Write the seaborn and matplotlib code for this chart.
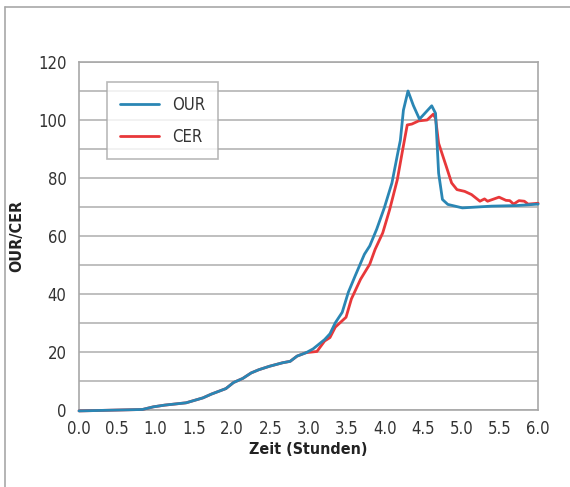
import numpy as np
import pandas as pd
import matplotlib.pyplot as plt
import seaborn as sns
from matplotlib.lines import Line2D

# OUR series (hours, value)
our_t = [0.0, 0.83, 0.97, 1.12, 1.40, 1.62, 1.73, 1.92, 2.02, 2.14, 2.25, 2.35, 2.49,
         2.66, 2.76, 2.85, 2.97, 3.06, 3.21, 3.28, 3.35, 3.44, 3.52, 3.61, 3.73, 3.80,
         3.89, 3.99, 4.09, 4.17, 4.20, 4.24, 4.30, 4.37, 4.45, 4.61, 4.66, 4.70, 4.75,
         4.82, 5.01, 5.39, 5.72, 6.0]
our_v = [-0.3, 0.2, 1.1, 1.7, 2.5, 4.2, 5.5, 7.4, 9.5, 10.9, 12.8, 13.9, 15.1,
         16.3, 16.8, 18.6, 19.8, 21.1, 24.3, 26.3, 30.1, 33.7, 40.6, 46.3, 53.7, 56.6,
         62.3, 69.7, 78.3, 89.1, 93.0, 103.4, 110.0, 105.0, 100.3, 104.9, 102.3, 81.7, 72.6,
         70.9, 69.7, 70.3, 70.5, 71.0]

# CER series
cer_t = [0.0, 0.83, 0.97, 1.12, 1.40, 1.62, 1.73, 1.92, 2.02, 2.14, 2.25, 2.35, 2.49,
         2.66, 2.76, 2.85, 2.97, 3.11, 3.21, 3.28, 3.35, 3.49, 3.56, 3.68, 3.80, 3.87,
         3.97, 4.06, 4.16, 4.23, 4.29, 4.35, 4.44, 4.55, 4.63, 4.66, 4.70, 4.80, 4.87,
         4.94, 5.04, 5.13, 5.24, 5.30, 5.34, 5.49, 5.58, 5.63, 5.68, 5.75, 5.82, 5.87, 6.0]
cer_v = [-0.3, 0.2, 1.1, 1.7, 2.5, 4.2, 5.5, 7.4, 9.5, 10.9, 12.8, 13.9, 15.1,
         16.3, 16.8, 18.6, 19.8, 20.2, 23.8, 25.0, 28.6, 32.0, 38.3, 45.1, 50.3, 55.4,
         61.1, 69.1, 79.4, 89.7, 98.3, 98.6, 99.7, 100.0, 102.0, 100.6, 92.0, 84.0, 78.3,
         76.0, 75.4, 74.3, 72.0, 72.8, 72.0, 73.4, 72.3, 72.2, 71.0, 72.2, 72.0, 71.0, 71.3]

x_ticks = [0.0, 0.5, 1.0, 1.5, 2.0, 2.5, 3.0, 3.5, 4.0, 4.5, 5.0, 5.5, 6.0]
y_ticks = [0, 20, 40, 60, 80, 100, 120]

df = pd.concat([
    pd.DataFrame({'t': our_t, 'v': our_v, 's': 'OUR'}),
    pd.DataFrame({'t': cer_t, 'v': cer_v, 's': 'CER'}),
])

sns.set_theme(style="white")
plt.rcParams['font.family'] = ['DejaVu Sans']
plt.rcParams['font.stretch'] = 'condensed'

fig = plt.figure(figsize=(5.7, 4.87), dpi=100)
ax = fig.add_axes([0.1386, 0.158, 0.8054, 0.7147])

colors = {'OUR': '#2a86b4', 'CER': '#e8383a'}
# CER first so OUR lies on top where they overlap
sns.lineplot(data=df[df['s'] == 'CER'], x='t', y='v', color=colors['CER'], lw=2.0,
             sort=False, ax=ax, legend=False, zorder=3, clip_on=False)
sns.lineplot(data=df[df['s'] == 'OUR'], x='t', y='v', color=colors['OUR'], lw=2.0,
             sort=False, ax=ax, legend=False, zorder=3, clip_on=False)

ax.set_xlim(0, 6)
ax.set_ylim(0, 120)
ax.set_xticks(x_ticks)
ax.set_xticklabels([f'{t:.1f}' for t in x_ticks])
ax.set_yticks(y_ticks)
ax.set_yticks(np.arange(10, 120, 20), minor=True)
ax.grid(True, which='both', axis='y', color='#b4b4b4', lw=1.2)
ax.set_axisbelow(True)
ax.tick_params(axis='both', which='both', length=0, labelsize=12, colors='#333333')
ax.tick_params(axis='x', pad=7)
ax.tick_params(axis='y', pad=9)
for sp in ax.spines.values():
    sp.set_color('#a8a8a8')
    sp.set_linewidth(1.2)

ax.set_xlabel('Zeit (Stunden)', fontsize=11.5, fontweight='bold', color='#222222', labelpad=3)
ax.set_ylabel('OUR/CER', fontsize=11.5, fontweight='bold', color='#222222', labelpad=10)

handles = [Line2D([], [], color=colors['OUR'], lw=2), Line2D([], [], color=colors['CER'], lw=2)]
leg = ax.legend(handles, ['OUR', 'CER'], loc='upper left', bbox_to_anchor=(0.061, 0.942),
                frameon=True, fancybox=False, fontsize=12, handlelength=2.3,
                borderpad=0.8, labelspacing=0.85, handletextpad=0.8, borderaxespad=0)
leg.get_frame().set_edgecolor('#a8a8a8')
leg.get_frame().set_linewidth(1.2)
for txt in leg.get_texts():
    txt.set_color('#333333')

# outer frame (top and left visible)
fig.add_artist(Line2D([5/570, 1], [1-7/487, 1-7/487], color='#a8a8a8', lw=1.2))
fig.add_artist(Line2D([5/570, 5/570], [0, 1-7/487], color='#a8a8a8', lw=1.2))

fig.savefig('out.png', dpi=100)
